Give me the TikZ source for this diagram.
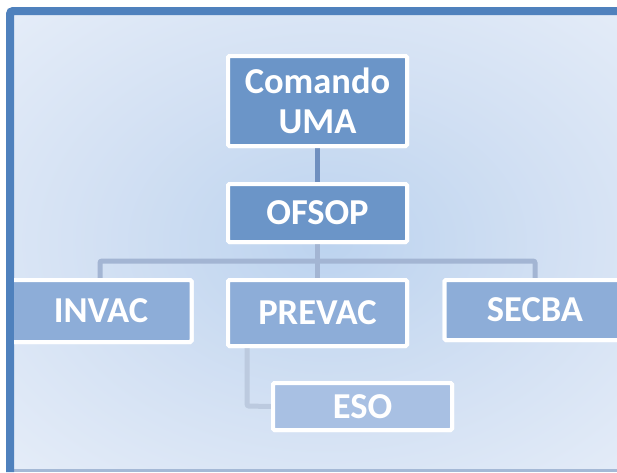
\documentclass[tikz,border=0pt]{standalone}
\usepackage{fontspec}
\setmainfont{Carlito}
\usetikzlibrary{shadings}
\definecolor{framebl}{HTML}{4F81BD}
\definecolor{bgin}{HTML}{BCD3EF}
\definecolor{bgmid}{HTML}{D2E0F3}
\definecolor{bgout}{HTML}{E4ECF8}
\definecolor{darkfill}{HTML}{6B95C8}
\definecolor{midfill}{HTML}{8DADD8}
\definecolor{lightfill}{HTML}{A8C0E3}
\definecolor{linedark}{HTML}{6F8FBF}
\definecolor{linemid}{HTML}{A3B5D3}
\definecolor{linelight}{HTML}{BCCADF}
\definecolor{bottomline}{HTML}{A5B9D6}
\pgfdeclareradialshading{bgshade}{\pgfpoint{0bp}{0bp}}{%
  color(0bp)=(bgin); color(18bp)=(bgmid); color(35bp)=(bgout); color(50bp)=(bgout)}
\tikzset{
  orgbox/.style={draw=white, line width=4pt, rounded corners=1.5pt, inner sep=0pt,
    text=white, font=\fontsize{36.5}{40}\selectfont\bfseries, align=center},
  conn/.style={line width=5pt},
}
\begin{document}
\begin{tikzpicture}[x=1pt,y=-1pt]
\useasboundingbox (0,0) rectangle (617,472);
% background
\shade[shading=bgshade] (14,15) rectangle (640,469);
\fill[bottomline] (14,469) rectangle (617,472);
% frame
\draw[framebl, line width=8pt, rounded corners=3pt] (10,472) -- (10,11) -- (640,11);
% connector end points
\coordinate (busL) at (100,261);
\coordinate (busR) at (535,261);
\coordinate (esoc) at (247,406);
% nodes (placed first for anchors)
\node[orgbox, fill=darkfill, minimum width=179, minimum height=90] (cmd) at (317.5,101) {Comando\\UMA};
\node[orgbox, fill=darkfill, minimum width=179, minimum height=58] (ofsop) at (317.5,213) {OFSOP};
\node[orgbox, fill=midfill, minimum width=181, minimum height=62] (invac) at (101,311) {INVAC};
\node[orgbox, fill=midfill, minimum width=179, minimum height=66] (prevac) at (317.5,313) {PREVAC};
\node[orgbox, fill=midfill, minimum width=181, minimum height=60] (secba) at (535,310) {SECBA};
\node[orgbox, fill=lightfill, minimum width=179, minimum height=47] (eso) at (362.5,406.5) {ESO};
% connectors
\draw[conn, linedark] (cmd.south) -- (ofsop.north);
\draw[conn, linemid, line cap=round, rounded corners=2pt] (invac.north -| busL) -- (busL) -- (busR) -- (secba.north -| busR);
\draw[conn, linemid] (ofsop.south) -- (prevac.north);
\draw[conn, linelight, rounded corners=2pt] (prevac.south -| esoc) -- (esoc) -- (eso.west);
% boxes again on top of the connectors
\node[orgbox, fill=midfill, minimum width=181, minimum height=62] at (invac.center) {INVAC};
\node[orgbox, fill=midfill, minimum width=179, minimum height=66] at (prevac.center) {PREVAC};
\node[orgbox, fill=midfill, minimum width=181, minimum height=60] at (secba.center) {SECBA};
\node[orgbox, fill=lightfill, minimum width=179, minimum height=47] at (eso.center) {ESO};
\node[orgbox, fill=darkfill, minimum width=179, minimum height=58] at (ofsop.center) {OFSOP};
\node[orgbox, fill=darkfill, minimum width=179, minimum height=90] at (cmd.center) {Comando\\UMA};
% frame over INVAC
\draw[framebl, line width=8pt] (10,272) -- (10,472);
\end{tikzpicture}
\end{document}
